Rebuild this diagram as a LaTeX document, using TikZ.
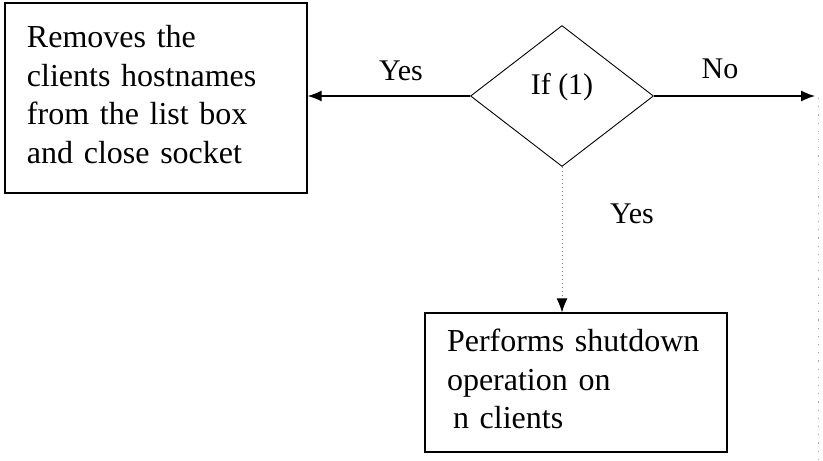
\documentclass[tikz,border=0pt]{standalone}
\usepackage{fontspec}
\setmainfont{Liberation Serif}
\usetikzlibrary{shapes.geometric,arrows.meta}

\newcommand{\lastdepth}{\rule[-7pt]{0pt}{7pt}}

\tikzset{
  procbox/.style={draw, line width=1.3pt, rectangle, inner sep=0pt, align=left,
    font=\fontsize{32}{38.5}\selectfont},
  decision/.style={draw, line width=0.9pt, diamond, inner sep=0pt,
    font=\fontsize{30}{36}\selectfont, text height=10pt, text depth=14pt},
  edgelabel/.style={anchor=base, inner sep=0pt, font=\fontsize{30}{36}\selectfont},
  flow/.style={line width=1.2pt, -{Latex[length=14pt,width=11pt]}},
  dottedflow/.style={line width=0.8pt, gray, dash pattern=on 1pt off 3pt,
    -{Latex[length=14pt,width=11pt,color=black]}},
  guide/.style={line width=0.8pt, gray!70, dash pattern=on 1.2pt off 7pt}
}

\begin{document}
\begin{tikzpicture}[x=1pt,y=-1pt]
  \useasboundingbox (0,0) rectangle (823,461);

  % remove-client box
  \node[procbox, minimum width=302pt, minimum height=190pt, text width=258pt]
    (remove) at (156,98)
    {Removes the\\clients hostnames\\from the list box\\and close socket\lastdepth};

  % decision
  \node[decision, minimum width=183pt, minimum height=141pt] (cond) at (562,96) {If (1)};

  % shutdown box
  \node[procbox, minimum width=302pt, minimum height=139pt, text width=258pt]
    (shutdown) at (576,382.5)
    {Performs shutdown\\operation on\\\hspace{6pt}n clients\lastdepth};

  % free end of the "No" branch and the faint guide on the right
  \coordinate (noend) at (815,96);
  \coordinate (guidetop) at (818,98);
  \coordinate (guidebot) at (818,461);

  % connectors
  \draw[flow] (cond.west) -- (cond.west -| remove.east);
  \draw[flow] (cond.east) -- (noend);
  \draw[dottedflow] (cond.south) -- (cond.south |- shutdown.north);
  \draw[guide] (guidetop) -- (guidebot);

  % branch labels
  \node[edgelabel] (lyes) at (401,80) {Yes};
  \node[edgelabel] (lno) at (720,78) {No};
  \node[edgelabel] (lyes2) at (632,223) {Yes};
\end{tikzpicture}
\end{document}
